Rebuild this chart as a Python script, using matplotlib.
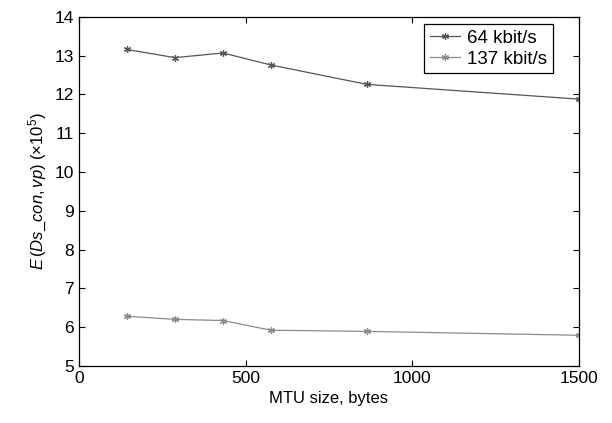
import matplotlib
matplotlib.use('Agg')
import matplotlib.pyplot as plt

# MTU sizes (bytes) and expected values (x 10^5)
mtu = [144, 288, 432, 576, 864, 1500]
rate_64 = [13.16, 12.95, 13.07, 12.76, 12.26, 11.88]
rate_137 = [6.28, 6.20, 6.17, 5.92, 5.89, 5.79]
labels = ['64 kbit/s', '137 kbit/s']

plt.rcParams['font.family'] = 'Liberation Sans'
plt.rcParams['mathtext.fontset'] = 'custom'
plt.rcParams['mathtext.rm'] = 'Liberation Sans'
plt.rcParams['mathtext.it'] = 'Liberation Sans:italic'
plt.rcParams['font.size'] = 12

fig = plt.figure(figsize=(6.12, 4.23), dpi=100)
ax = fig.add_axes([0.129, 0.135, 0.817, 0.825])

# asterisk markers, like matlab '*'
star = (6, 2, 0)
ax.plot(mtu, rate_64, color='#555555', marker=star, markersize=5, markeredgewidth=0.9,
        linewidth=0.9, label=labels[0])
ax.plot(mtu, rate_137, color='#8a8a8a', marker=star, markersize=5, markeredgewidth=0.9,
        linewidth=0.9, label=labels[1])

ax.set_xlim(0, 1500)
ax.set_ylim(5, 14)
ax.set_xticks([0, 500, 1000, 1500])
ax.set_yticks(range(5, 15))
ax.tick_params(direction='in', top=True, right=True, length=4, width=0.8, labelsize=12.5)
for s in ax.spines.values():
    s.set_linewidth(0.9)

ax.set_xlabel('MTU size, bytes', fontsize=12)
ax.set_ylabel(r'$E\,(Ds\_con,vp)$ $(\times 10^5)$', fontsize=12)

leg = ax.legend(loc='upper right', bbox_to_anchor=(0.948, 0.98), fontsize=13.5,
                fancybox=False, framealpha=1, edgecolor='black', handlelength=1.6,
                borderpad=0.3, labelspacing=0.2, handletextpad=0.4, borderaxespad=0)
leg.get_frame().set_linewidth(0.9)

fig.savefig('out.png', dpi=100)
